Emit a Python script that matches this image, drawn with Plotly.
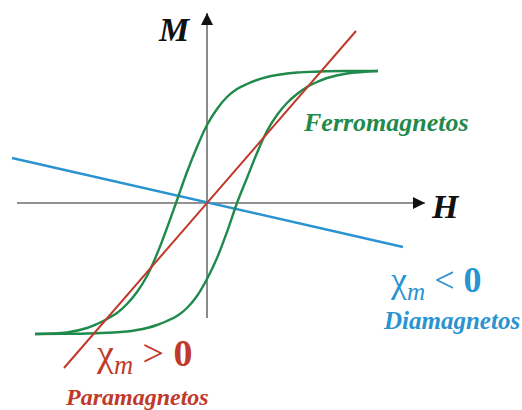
import plotly.graph_objects as go

# Magnetisation curves M(H) in arbitrary units (origin at the axis crossing)
# Hysteresis loop, descending branch (from +saturation to -saturation)
ferro_down_h = [17.1, 14.0, 12.0, 10.0, 9.0, 8.0, 7.0, 6.0, 5.0, 4.0, 3.0, 2.0, 1.0, 0.0,
                -1.0, -2.0, -3.1, -4.0, -5.0, -6.0, -7.0, -8.0, -9.0, -10.0, -11.0, -12.0,
                -14.0, -17.2]
ferro_down_m = [13.2, 13.2, 13.18, 13.1, 13.05, 12.95, 12.8, 12.6, 12.3, 11.9, 11.4, 10.6, 9.4, 7.8,
                5.6, 3.1, 0.0, -2.5, -5.1, -7.3, -8.9, -10.1, -11.0, -11.6, -12.1, -12.5,
                -12.95, -13.1]

# Hysteresis loop, ascending branch (from -saturation to +saturation)
ferro_up_h = [-17.2, -14.0, -12.0, -10.0, -9.0, -8.0, -7.0, -6.0, -5.0, -4.0, -3.0, -2.0, -1.0, 0.0,
              1.0, 2.0, 3.0, 4.0, 5.0, 6.0, 7.0, 8.0, 9.0, 10.0, 11.0, 12.0,
              14.0, 17.1]
ferro_up_m = [-13.1, -13.08, -13.05, -12.98, -12.93, -12.85, -12.7, -12.5, -12.2, -11.8, -11.3, -10.5, -9.3, -7.6,
              -5.5, -2.9, 0.0, 2.5, 5.0, 7.2, 8.8, 10.0, 10.9, 11.6, 12.1, 12.5,
              12.95, 13.2]

# Paramagnet: straight line, positive susceptibility
para_h = [-14.3, 14.9]
para_m = [-16.5, 17.2]

# Diamagnet: straight line, negative susceptibility
dia_h = [-19.5, 19.6]
dia_m = [4.5, -4.4]

# Axis extents (arrow tips at the upper ends)
h_axis = [-19.0, 21.8]
m_axis = [-11.5, 19.0]

GREEN = "#1f8a4c"
RED = "#c0392b"
BLUE = "#2a93d0"
AXIS_GREY = "#6e6e6e"
SERIF = "Liberation Serif, Times New Roman, serif"

fig = go.Figure()

# coordinate axes
fig.add_trace(go.Scatter(x=h_axis, y=[0, 0], mode="lines",
                         line=dict(color=AXIS_GREY, width=1.6), hoverinfo="skip"))
fig.add_trace(go.Scatter(x=[0, 0], y=m_axis, mode="lines",
                         line=dict(color=AXIS_GREY, width=1.6), hoverinfo="skip"))

# curves
fig.add_trace(go.Scatter(x=dia_h, y=dia_m, mode="lines",
                         line=dict(color=BLUE, width=2.4)))
fig.add_trace(go.Scatter(x=ferro_down_h, y=ferro_down_m, mode="lines",
                         line=dict(color=GREEN, width=2.4, shape="spline", smoothing=1.0)))
fig.add_trace(go.Scatter(x=ferro_up_h, y=ferro_up_m, mode="lines",
                         line=dict(color=GREEN, width=2.4, shape="spline", smoothing=1.0)))
fig.add_trace(go.Scatter(x=para_h, y=para_m, mode="lines",
                         line=dict(color=RED, width=2.0)))

# arrowheads at the positive ends of both axes
fig.add_trace(go.Scatter(x=[h_axis[1]], y=[0], mode="markers", hoverinfo="skip",
                         marker=dict(symbol="arrow-right", size=12, color="#111111",
                                     line=dict(width=0))))
fig.add_trace(go.Scatter(x=[0], y=[m_axis[1]], mode="markers", hoverinfo="skip",
                         marker=dict(symbol="arrow-up", size=12, color="#111111",
                                     line=dict(width=0))))

annotations = []

def label(x, y, text, color, size):
    annotations.append(dict(x=x, y=y, xref="x", yref="y", text=text,
                            showarrow=False, xanchor="center", yanchor="middle",
                            font=dict(family=SERIF, size=size, color=color)))

label(-3.3, 17.4, "<b><i>M</i></b>", "#111111", 34)
label(23.8, -0.3, "<b><i>H</i></b>", "#111111", 34)
label(17.9, 8.1, "<b><i>Ferromagnetos</i></b>", GREEN, 26)
label(22.9, -7.9, "χ<sub><i>m</i></sub> &lt; <b>0</b>", BLUE, 36)
label(24.4, -11.7, "<b><i>Diamagnetos</i></b>", BLUE, 25)
label(-6.3, -15.3, "χ<sub><i>m</i></sub> &gt; <b>0</b>", RED, 38)
label(-7.0, -19.4, "<b><i>Paramagnetos</i></b>", RED, 24)

fig.update_layout(
    width=522, height=410,
    margin=dict(l=0, r=0, t=0, b=0),
    paper_bgcolor="white", plot_bgcolor="white",
    showlegend=False,
    xaxis=dict(range=[-20.7, 31.5], visible=False, fixedrange=True),
    yaxis=dict(range=[-20.7, 20.3], visible=False, fixedrange=True),
    annotations=annotations,
)

fig.write_html("out.html")
